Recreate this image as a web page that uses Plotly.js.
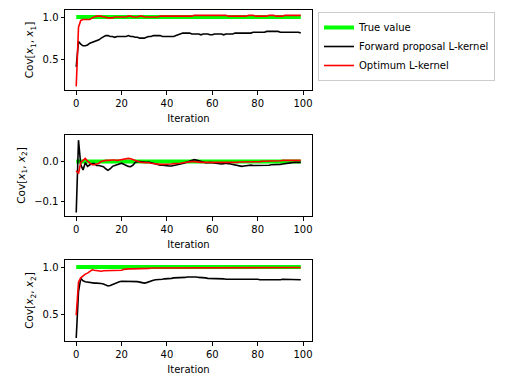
<!DOCTYPE html>
<html>
<head>
<meta charset="utf-8">
<script src="https://cdn.plot.ly/plotly-3.0.1.min.js"></script>
<style>
  html, body { margin: 0; padding: 0; background: #fff; }
  #chart { width: 519px; height: 389px; }
</style>
</head>
<body>
<div id="chart"></div>
<script>
// iteration index 0..99
var iters = [];
for (var i = 0; i < 100; i++) iters.push(i);

var trueVar = [];   // true covariance: 1 on diagonal
var trueCov = [];   // 0 off-diagonal
for (var i = 0; i < 100; i++) { trueVar.push(1); trueCov.push(0); }

// Cov[x1, x1]
var fwd11 = [0.41,0.71,0.68,0.66,0.66,0.67,0.69,0.70,0.71,0.72,
  0.73,0.75,0.77,0.78,0.78,0.77,0.77,0.76,0.77,0.77,
  0.77,0.77,0.77,0.78,0.77,0.77,0.76,0.76,0.75,0.75,
  0.75,0.76,0.77,0.77,0.78,0.78,0.78,0.78,0.77,0.77,
  0.77,0.77,0.77,0.77,0.78,0.79,0.80,0.81,0.81,0.81,
  0.81,0.80,0.80,0.80,0.80,0.79,0.80,0.80,0.80,0.79,
  0.79,0.80,0.80,0.80,0.80,0.79,0.80,0.80,0.80,0.80,
  0.81,0.81,0.81,0.81,0.81,0.81,0.81,0.81,0.82,0.82,
  0.82,0.82,0.82,0.82,0.83,0.83,0.83,0.83,0.83,0.83,
  0.82,0.82,0.82,0.82,0.82,0.82,0.82,0.82,0.82,0.81];
var opt11 = [0.18,0.88,0.96,0.97,0.97,0.97,0.97,0.99,1.00,1.01,
  1.01,1.01,1.00,1.00,0.99,0.99,0.99,1.00,1.00,1.00,
  1.00,1.00,1.00,1.01,1.01,1.00,1.00,1.00,1.01,1.01,
  1.00,1.00,1.00,1.00,1.00,1.00,1.00,1.01,1.01,1.01,
  1.01,1.01,1.01,1.01,1.01,1.01,1.01,1.01,1.01,1.01,
  1.01,1.01,1.02,1.02,1.02,1.02,1.02,1.02,1.02,1.02,
  1.02,1.02,1.02,1.02,1.02,1.02,1.02,1.01,1.01,1.01,
  1.01,1.01,1.01,1.01,1.01,1.01,1.02,1.02,1.02,1.01,
  1.01,1.01,1.01,1.01,1.01,1.02,1.02,1.02,1.01,1.01,
  1.01,1.01,1.02,1.02,1.02,1.02,1.02,1.02,1.02,1.02];

// Cov[x1, x2]
var fwd12 = [-0.128,0.054,-0.008,-0.021,-0.003,-0.012,-0.008,-0.005,-0.005,-0.010,
  -0.010,-0.012,-0.013,-0.018,-0.022,-0.018,-0.012,-0.010,-0.007,-0.006,
  -0.004,-0.007,-0.009,-0.012,-0.013,-0.009,-0.002,0.000,0.000,-0.001,
  -0.002,-0.002,-0.001,-0.003,-0.004,-0.006,-0.008,-0.009,-0.009,-0.010,
  -0.010,-0.011,-0.011,-0.010,-0.009,-0.008,-0.006,-0.005,-0.003,-0.001,
  0.002,0.004,0.005,0.004,0.002,0.000,-0.002,-0.003,-0.003,-0.002,
  -0.003,-0.004,-0.004,-0.005,-0.006,-0.005,-0.004,-0.005,-0.006,-0.008,
  -0.009,-0.010,-0.011,-0.012,-0.011,-0.010,-0.010,-0.009,-0.010,-0.010,
  -0.009,-0.009,-0.010,-0.010,-0.009,-0.009,-0.008,-0.008,-0.008,-0.008,
  -0.007,-0.006,-0.005,-0.004,-0.003,-0.003,-0.002,-0.002,-0.002,-0.002];
var opt12 = [-0.023,-0.030,-0.002,0.004,0.008,0.001,-0.004,-0.008,-0.008,-0.006,
  -0.004,0.000,0.002,0.003,0.003,0.004,0.004,0.004,0.003,0.004,
  0.005,0.006,0.007,0.008,0.007,0.005,0.002,0.000,-0.001,-0.002,
  -0.002,-0.003,-0.003,-0.004,-0.005,-0.006,-0.007,-0.007,-0.007,-0.007,
  -0.007,-0.006,-0.006,-0.005,-0.005,-0.004,-0.004,-0.003,-0.002,-0.001,
  0.000,0.000,0.000,-0.001,-0.001,-0.002,-0.002,-0.002,-0.002,-0.002,
  -0.002,-0.002,-0.002,-0.002,-0.003,-0.003,-0.002,-0.002,-0.002,-0.002,
  -0.002,-0.002,-0.001,-0.001,-0.001,-0.001,0.000,0.000,0.000,0.000,
  0.000,0.000,0.001,0.001,0.001,0.001,0.002,0.002,0.002,0.002,
  0.002,0.003,0.003,0.003,0.003,0.003,0.003,0.003,0.003,0.003];

// Cov[x2, x2]
var fwd22 = [0.25,0.74,0.88,0.855,0.845,0.84,0.84,0.835,0.83,0.83,
  0.83,0.825,0.82,0.81,0.80,0.805,0.815,0.83,0.84,0.845,
  0.85,0.85,0.85,0.85,0.85,0.85,0.845,0.845,0.84,0.835,
  0.83,0.835,0.845,0.855,0.86,0.865,0.865,0.865,0.87,0.875,
  0.875,0.88,0.88,0.885,0.885,0.885,0.89,0.89,0.89,0.895,
  0.895,0.90,0.90,0.895,0.89,0.89,0.885,0.885,0.88,0.88,
  0.875,0.875,0.875,0.88,0.875,0.875,0.87,0.87,0.87,0.875,
  0.875,0.87,0.87,0.875,0.875,0.875,0.875,0.875,0.87,0.87,
  0.87,0.865,0.865,0.86,0.86,0.86,0.86,0.865,0.865,0.865,
  0.865,0.87,0.87,0.87,0.87,0.87,0.87,0.87,0.865,0.865];
var opt22 = [0.49,0.84,0.885,0.91,0.925,0.935,0.955,0.97,0.965,0.96,
  0.955,0.955,0.96,0.96,0.96,0.96,0.96,0.96,0.96,0.965,
  0.965,0.975,0.98,0.98,0.98,0.98,0.985,0.985,0.985,0.985,
  0.985,0.985,0.985,0.99,0.99,0.99,0.99,0.99,0.99,0.99,
  0.99,0.99,0.99,0.99,0.99,0.995,0.995,0.99,0.99,0.99,
  0.995,0.995,0.995,0.995,0.99,0.99,0.99,0.99,0.99,0.99,
  0.99,0.99,0.99,0.99,0.99,0.995,0.995,0.995,0.995,0.995,
  0.995,0.995,0.995,0.995,0.995,0.995,0.995,0.995,0.995,0.995,
  0.995,0.995,0.995,0.995,0.995,0.995,0.995,0.995,0.995,0.995,
  0.995,0.995,0.995,0.995,0.995,0.995,0.995,0.995,0.995,0.995];

var names = ['True value', 'Forward proposal L-kernel', 'Optimum L-kernel'];
var colors = ['#00ff00', '#000000', '#ff0000'];
var widths = [4, 1.6, 1.6];

var panels = [
  {truth: trueVar, fwd: fwd11, opt: opt11, yt: 'Cov[<i>x</i><sub>1</sub>, <i>x</i><sub>1</sub>]', range: [0.137, 1.083], tv: [0.5, 1.0], tt: ['0.5', '1.0']},
  {truth: trueCov, fwd: fwd12, opt: opt12, yt: 'Cov[<i>x</i><sub>1</sub>, <i>x</i><sub>2</sub>]', range: [-0.137, 0.067], tv: [-0.1, 0.0], tt: ['\u22120.1', '0.0']},
  {truth: trueVar, fwd: fwd22, opt: opt22, yt: 'Cov[<i>x</i><sub>2</sub>, <i>x</i><sub>2</sub>]', range: [0.218, 1.074], tv: [0.5, 1.0], tt: ['0.5', '1.0']}
];

var W = 519, H = 389;
var xdom = [65 / W, 312 / W];
var ydoms = [[1 - 90 / H, 1 - 10 / H], [1 - 216 / H, 1 - 135 / H], [1 - 341 / H, 1 - 260 / H]];

var data = [];
var layout = {
  width: W, height: H,
  margin: {l: 0, r: 0, t: 0, b: 0, autoexpand: false},
  paper_bgcolor: '#fff', plot_bgcolor: '#fff',
  font: {family: 'DejaVu Sans', size: 10, color: '#000'},
  showlegend: true,
  legend: {
    x: 318 / W, y: 1 - 12 / H, xanchor: 'left', yanchor: 'top',
    bgcolor: '#fff', bordercolor: '#cccccc', borderwidth: 1,
    font: {family: 'DejaVu Sans', size: 10}, itemwidth: 30
  }
};

panels.forEach(function (p, k) {
  var sfx = k === 0 ? '' : String(k + 1);
  var series = [p.truth, p.fwd, p.opt];
  series.forEach(function (ys, j) {
    data.push({
      x: iters, y: ys, type: 'scatter', mode: 'lines',
      name: names[j], showlegend: k === 0,
      line: {color: colors[j], width: widths[j]},
      xaxis: 'x' + sfx, yaxis: 'y' + sfx
    });
  });
  var axStyle = {
    showgrid: false, zeroline: false, showline: true, mirror: true,
    linecolor: '#000', linewidth: 1, ticks: 'outside', ticklen: 3.5,
    tickcolor: '#000', tickwidth: 1, tickfont: {size: 10}
  };
  layout['xaxis' + sfx] = Object.assign({}, axStyle, {
    domain: xdom, anchor: 'y' + sfx, range: [-4.95, 103.95],
    tickvals: [0, 20, 40, 60, 80, 100],
    title: {text: 'Iteration', font: {size: 10}, standoff: 7}
  });
  layout['yaxis' + sfx] = Object.assign({}, axStyle, {
    domain: ydoms[k], anchor: 'x' + sfx, range: p.range,
    tickvals: p.tv, ticktext: p.tt,
    title: {text: p.yt, font: {size: 10.5}, standoff: 6}
  });
});

Plotly.newPlot('chart', data, layout, {displayModeBar: false, staticPlot: true});
</script>
</body>
</html>
